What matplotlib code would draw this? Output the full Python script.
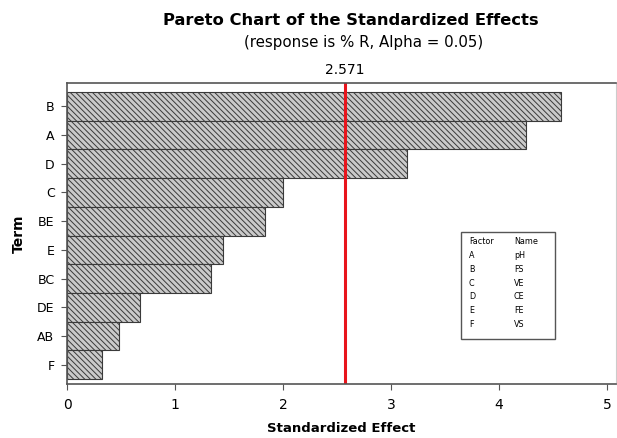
import matplotlib
matplotlib.use("Agg")
import matplotlib.pyplot as plt
from matplotlib.patches import Rectangle

terms = ["B", "A", "D", "C", "BE", "E", "BC", "DE", "AB", "F"]
effects = [4.57, 4.25, 3.15, 2.00, 1.83, 1.44, 1.33, 0.68, 0.48, 0.32]
critical = 2.571
factors = ["A", "B", "C", "D", "E", "F"]
names = ["pH", "FS", "VE", "CE", "FE", "VS"]

plt.rcParams['font.family'] = ['DejaVu Sans']
plt.rcParams['hatch.color'] = '#444444'
plt.rcParams['hatch.linewidth'] = 0.7

fig = plt.figure(figsize=(6.17, 4.38), dpi=100)
ax = fig.add_axes([0.1086, 0.1233, 0.8894, 0.6872])

ypos = list(range(len(terms)))
ax.barh(ypos, effects, height=1.0, color='#cacaca', edgecolor='#3a3a3a',
        linewidth=0.8, hatch='\\\\\\\\\\\\')
ax.axvline(critical, color='#e8141c', linewidth=2.2)

ax.set_ylim(9.67, -0.81)
ax.set_xlim(0, 5.08)
ax.set_yticks(ypos)
ax.set_yticklabels(terms, fontsize=9)
ax.set_xticks([0, 1, 2, 3, 4, 5])
ax.tick_params(axis='x', labelsize=10, length=4, color='#555555', pad=6)
ax.tick_params(axis='y', length=4, color='#555555', pad=5)
for s in ['left', 'bottom', 'top']:
    ax.spines[s].set_color('#555555')
    ax.spines[s].set_linewidth(1.2)
ax.spines['right'].set_color('#cccccc')

ax.set_xlabel('Standardized Effect', fontsize=9.5, fontweight='bold', labelpad=7)
ax.set_ylabel('Term', fontsize=10, fontweight='bold', labelpad=8)

fig.text(0.569, 0.953, 'Pareto Chart of the Standardized Effects', ha='center',
         va='center', fontsize=11.8, fontweight='bold')
fig.text(0.59, 0.902, '(response is % R, Alpha = 0.05)', ha='center',
         va='center', fontsize=10.8)
ax.text(critical, 1.02, f'{critical:.3f}', transform=ax.get_xaxis_transform(),
        ha='center', va='bottom', fontsize=10)

# factor legend box
bx0, by0, bw, bh = 461/617, 1 - 339/438, 94/617, 107/438
fig.patches.append(Rectangle((bx0, by0), bw, bh, transform=fig.transFigure,
                             facecolor='white', edgecolor='#555555', linewidth=1.0))
row_h = 13.7 / 438
ytop = 1 - 242/438
fig.text(469/617, ytop, 'Factor', fontsize=5.8, va='center')
fig.text(514/617, ytop, 'Name', fontsize=5.8, va='center')
for i, (f, n) in enumerate(zip(factors, names)):
    y = ytop - (i + 1) * row_h
    fig.text(469/617, y, f, fontsize=5.8, va='center')
    fig.text(514/617, y, n, fontsize=5.8, va='center')

fig.savefig('out.png', dpi=100)
